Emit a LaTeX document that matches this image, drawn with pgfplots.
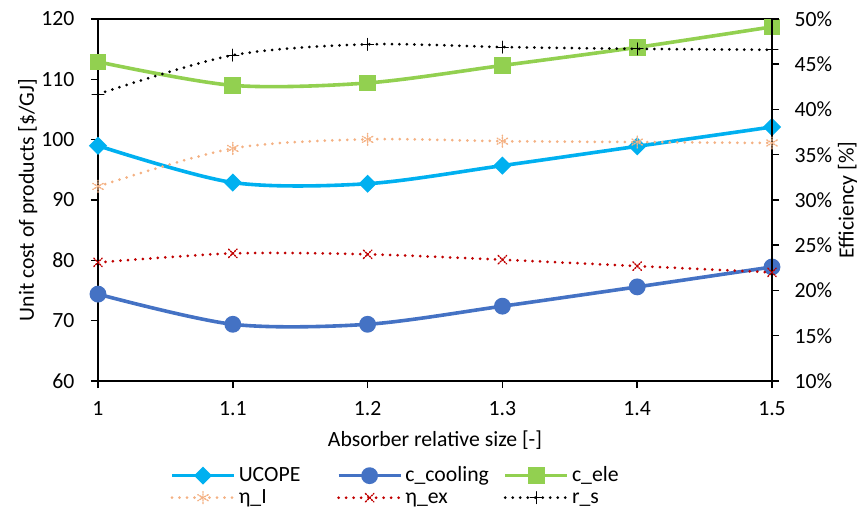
\documentclass[border=0pt]{standalone}
\usepackage{fontspec}
\setmainfont{Carlito}
\usepackage{pgfplots}
\pgfplotsset{compat=1.18}
\definecolor{cUC}{HTML}{00B0F0}
\definecolor{cCo}{HTML}{4472C4}
\definecolor{cEl}{HTML}{92D050}
\definecolor{cEI}{HTML}{F4B183}
\definecolor{cEx}{HTML}{C00000}
\newcommand{\fs}{\fontsize{21.8}{26}\selectfont}
\pgfplotsset{
  common/.style={
    at={(0,0)}, anchor=south west, scale only axis,
    width=674bp, height=362bp,
    xmin=1, xmax=1.5,
    /pgf/number format/assume math mode=true,
    tick align=outside, major tick length=7bp,
    axis line style={line width=1.6bp, black},
    every tick/.style={line width=1.5bp, black},
    tick label style={font=\fs},
    label style={font=\fs},
    legend image code/.code={\draw[mark repeat=2,mark phase=2,##1] plot coordinates {(0bp,0bp) (31bp,0bp) (62bp,0bp)};},
  },
  dotline/.style={line width=3bp, line cap=round, dash pattern=on 0bp off 7.5bp, smooth, tension=0.5},
  solidline/.style={line width=3.6bp, smooth, tension=0.5},
}
\begin{document}
\begin{tikzpicture}[font=\fs]
\path[use as bounding box] (-98bp,-127bp) rectangle (764bp,381bp);
\begin{axis}[common,
  ymin=60, ymax=120,
  xtick={1,1.1,1.2,1.3,1.4,1.5}, xticklabels={1,1.1,1.2,1.3,1.4,1.5},
  ytick={60,70,80,90,100,110,120},
  xtick pos=bottom, ytick pos=left,
  xticklabel style={yshift=-10bp},
  yticklabel style={xshift=-13bp},
  xlabel={Absorber relative size [-]},
  ylabel={Unit cost of products [\$/GJ]},
  x label style={at={(axis description cs:0.5,-0.163)}, anchor=center},
  y label style={at={(axis description cs:-0.104,0.5)}, anchor=center, rotate=0},
  legend columns=3,
  legend style={at={(axis description cs:0.1024,-0.2265)}, anchor=north west, draw=none, fill=none,
    font=\fs, row sep=1bp,
    nodes={text width=86bp, align=left, inner xsep=3bp, inner ysep=1bp, text height=15bp, text depth=4bp},
    /tikz/every even column/.append style={column sep=9bp}},
  legend cell align=left,
]
\addplot[solidline, color=cUC, mark=square*, mark size=4.6bp, mark options={rotate=45, solid}] coordinates {
 (1,99.0) (1.1,92.9) (1.2,92.7) (1.3,95.7) (1.4,98.9) (1.5,102.1)};
\addlegendentry{UCOPE}
\addplot[solidline, color=cCo, mark=*, mark size=6.6bp, mark options={solid}] coordinates {
 (1,74.4) (1.1,69.4) (1.2,69.4) (1.3,72.4) (1.4,75.6) (1.5,78.9)};
\addlegendentry{c\_cooling}
\addplot[solidline, color=cEl, mark=square*, mark size=6.5bp, mark options={solid}] coordinates {
 (1,112.9) (1.1,109.0) (1.2,109.4) (1.3,112.3) (1.4,115.3) (1.5,118.7)};
\addlegendentry{c\_ele}
\addlegendimage{dotline, color=cEI, mark=asterisk, mark size=6bp, mark options={line width=1.4bp, dash pattern=on 1.4bp off 1.4bp}}
\addlegendentry{η\_I}
\addlegendimage{dotline, color=cEx, mark=x, mark size=6bp, mark options={line width=1.4bp, dash pattern=on 1.4bp off 1.4bp}}
\addlegendentry{η\_ex}
\addlegendimage{dotline, color=black, mark=+, mark size=6bp, mark options={line width=1bp, solid}}
\addlegendentry{r\_s}
\end{axis}
\begin{axis}[common,
  ymin=10, ymax=50,
  axis x line=none, axis y line*=right,
  ytick={10,15,20,25,30,35,40,45,50},
  yticklabels={10\%,15\%,20\%,25\%,30\%,35\%,40\%,45\%,50\%},
  yticklabel style={xshift=12bp},
  ylabel={Efficiency [\%]},
  y label style={at={(axis description cs:1.112,0.5)}, anchor=center, rotate=0},
]
\addplot[dotline, color=cEI, mark=asterisk, mark size=6bp, mark options={line width=1.4bp, dash pattern=on 1.4bp off 1.4bp}] coordinates {
 (1,31.5) (1.1,35.7) (1.2,36.7) (1.3,36.5) (1.4,36.4) (1.5,36.3)};
\addplot[dotline, color=cEx, mark=x, mark size=6bp, mark options={line width=1.4bp, dash pattern=on 1.4bp off 1.4bp}] coordinates {
 (1,23.1) (1.1,24.1) (1.2,24.0) (1.3,23.4) (1.4,22.7) (1.5,22.0)};
\addplot[dotline, color=black, mark=+, mark size=6bp, mark options={line width=1bp, solid}] coordinates {
 (1,41.7) (1.1,46.0) (1.2,47.2) (1.3,46.9) (1.4,46.7) (1.5,46.6)};
\end{axis}
\end{tikzpicture}
\end{document}
